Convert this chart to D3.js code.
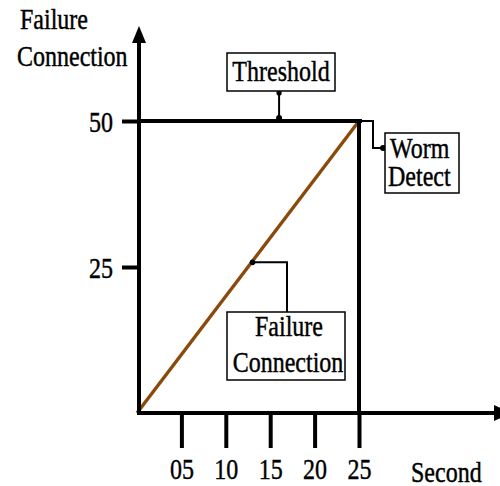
<!DOCTYPE html>
<html><head><meta charset="utf-8">
<script src="https://cdn.jsdelivr.net/npm/d3@7"></script>
<style>
body{margin:0;background:#fff}
svg{display:block}
</style>
</head><body><svg id="c" width="500" height="486"></svg>
<script>
// ---- data ----
const xTicks = [5, 10, 15, 20, 25];
const yTicks = [25, 50];
const seconds = [0, 25];
const failures = [0, 50];
const threshold = 50;
const detectTime = 25;
const yTitle = ["Failure", "Connection"];
const xTitle = "Second";
const thresholdLabel = "Threshold";
const detectLabel = ["Worm", "Detect"];
const lineLabel = ["Failure", "Connection"];

// ---- drawing ----
const FONT = '"Liberation Serif"';
const svg = d3.select("#c");
const x = d3.scaleLinear().domain([0, 25]).range([137, 359]);
const y = d3.scaleLinear().domain([0, 50]).range([413, 121]);
const axisX = 139, SY = 1.25;

function styleText(sel) {
  return sel.style("font-family", FONT).style("font-size", "24px").style("fill", "#000")
    .style("stroke", "#000").style("stroke-width", "0.35px");
}
function txt(s, px, py, anchor) {
  return styleText(svg.append("text"))
    .attr("transform", `translate(${px},${py}) scale(1,${SY})`)
    .attr("text-anchor", anchor || "start")
    .text(s);
}

// brown failure line
svg.append("path")
  .datum(seconds.map((s, i) => [s, failures[i]]))
  .attr("d", d3.line().x(d => x(d[0])).y(d => y(d[1])))
  .attr("stroke", "#8A4A0A").attr("stroke-width", 3.4).attr("fill", "none");

// x axis
const gx = svg.append("g").attr("transform", `translate(0,${y(0)})`)
  .call(d3.axisBottom(x).tickValues(xTicks).tickSize(35).tickSizeOuter(0).tickFormat(d3.format("02d")));
gx.select(".domain").remove();
gx.selectAll(".tick line").attr("stroke", "#000").attr("stroke-width", 4);
styleText(gx.selectAll(".tick text")).attr("y", null).attr("dy", null)
  .attr("transform", `translate(0,66) scale(1,${SY})`);

// y axis
const gy = svg.append("g").attr("transform", `translate(${axisX},0)`)
  .call(d3.axisLeft(y).tickValues(yTicks).tickSize(17).tickSizeOuter(0));
gy.select(".domain").remove();
gy.selectAll(".tick line").attr("stroke", "#000").attr("stroke-width", 4);
styleText(gy.selectAll(".tick text")).attr("x", null).attr("dy", null)
  .attr("transform", `translate(-26,10) scale(1,${SY})`);

// axis lines with arrows
svg.append("line").attr("x1", axisX).attr("x2", axisX).attr("y1", y(0) + 2).attr("y2", 40)
  .attr("stroke", "#000").attr("stroke-width", 4);
svg.append("path").attr("d", `M${axisX},26 L${axisX - 7},43 L${axisX + 7},43 Z`).attr("fill", "#000");
svg.append("line").attr("x1", axisX - 2).attr("x2", 496).attr("y1", y(0)).attr("y2", y(0))
  .attr("stroke", "#000").attr("stroke-width", 4);
svg.append("path").attr("d", `M512,${y(0)} L494,${y(0) - 8} L494,${y(0) + 8} Z`).attr("fill", "#000");

// threshold line and detection line
svg.append("line").attr("x1", axisX).attr("x2", x(detectTime) + 3)
  .attr("y1", y(threshold)).attr("y2", y(threshold))
  .attr("stroke", "#000").attr("stroke-width", 4);
svg.append("line").attr("x1", x(detectTime)).attr("x2", x(detectTime))
  .attr("y1", y(threshold) - 2).attr("y2", y(0))
  .attr("stroke", "#000").attr("stroke-width", 4);

// axis titles
txt(yTitle[0], 20, 29);
txt(yTitle[1], 17, 66);
txt(xTitle, 411, 482);

// Threshold annotation
const tx = x(16);
svg.append("line").attr("x1", tx).attr("x2", tx).attr("y1", 91).attr("y2", y(threshold))
  .attr("stroke", "#000").attr("stroke-width", 2);
svg.append("circle").attr("cx", tx).attr("cy", 93).attr("r", 2.6).attr("fill", "#000");
svg.append("circle").attr("cx", tx).attr("cy", y(threshold) - 3).attr("r", 3).attr("fill", "#000");
svg.append("rect").attr("x", 227).attr("y", 53).attr("width", 108).attr("height", 38)
  .attr("fill", "#fff").attr("stroke", "#000").attr("stroke-width", 1.5);
txt(thresholdLabel, 281, 81, "middle");

// Worm Detect annotation
svg.append("path").attr("d", `M${x(detectTime) + 2},${y(threshold)} H373 V148 H385`)
  .attr("fill", "none").attr("stroke", "#000").attr("stroke-width", 2);
svg.append("circle").attr("cx", 383).attr("cy", 148).attr("r", 3).attr("fill", "#000");
svg.append("rect").attr("x", 385).attr("y", 133).attr("width", 74).attr("height", 60)
  .attr("fill", "#fff").attr("stroke", "#000").attr("stroke-width", 1.5);
txt(detectLabel[0], 390, 158);
txt(detectLabel[1], 388, 186);

// Failure Connection annotation
const av = 25.8, ax = x(av * seconds[1] / failures[1]), ay = y(av);
svg.append("path").attr("d", `M${ax},${ay} H287 V312`)
  .attr("fill", "none").attr("stroke", "#000").attr("stroke-width", 2);
svg.append("circle").attr("cx", ax + 1).attr("cy", ay).attr("r", 2.8).attr("fill", "#000");
svg.append("rect").attr("x", 227).attr("y", 312).attr("width", 118).attr("height", 68)
  .attr("fill", "#fff").attr("stroke", "#000").attr("stroke-width", 1.5);
txt(lineLabel[0], 289, 336, "middle");
txt(lineLabel[1], 288, 372, "middle");
</script>
</body></html>
